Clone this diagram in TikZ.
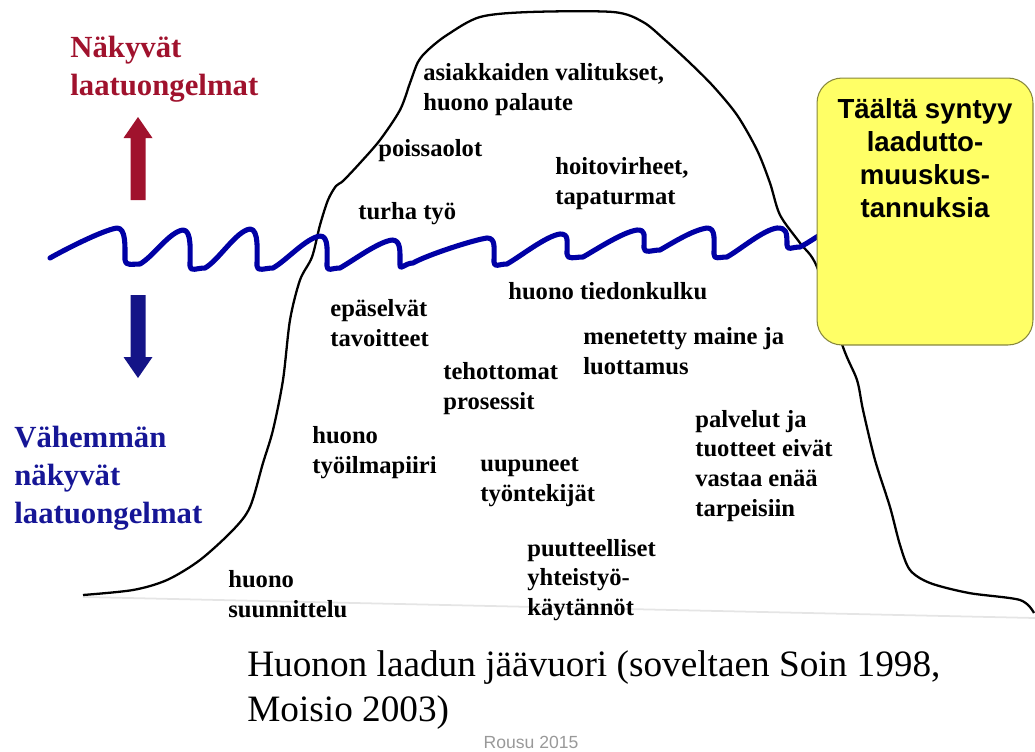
\documentclass[tikz,border=0pt]{standalone}
\usepackage{fontspec}
\setmainfont{Liberation Serif}
\setsansfont{Liberation Sans}
\usepackage{xcolor}
\usepackage{tikz}
\usetikzlibrary{positioning}

\definecolor{visred}{RGB}{160,18,45}
\definecolor{hidblue}{RGB}{22,22,150}
\definecolor{waveblue}{RGB}{0,0,165}
\definecolor{boxyellow}{RGB}{255,255,102}
\definecolor{boxedge}{RGB}{135,135,60}

\tikzset{
  problem/.style={font=\bfseries\fontsize{14}{17}\selectfont, align=left, anchor=west, inner sep=0pt},
  heading/.style={font=\bfseries\fontsize{17.5}{21.5}\selectfont, align=left, anchor=west, inner sep=0pt},
  wave/.style={draw=waveblue, line width=2.9pt, line cap=round, line join=round},
  berg/.style={draw=black, line width=1.3pt},
  costbox/.style={draw=boxedge, fill=boxyellow, rounded corners=0.5cm, line width=0.6pt,
                  minimum width=4.32cm, minimum height=5.34cm, inner sep=0pt}
}

\begin{document}
\begin{tikzpicture}[x=0.02cm, y=-0.02cm]
    \useasboundingbox (0,0) rectangle (1035,751);

    % vedenpinnan alapuolinen pohja
    \draw[gray!20, line width=1pt] (83,597) -- (1035,618);

    % jäävuori
    \draw[berg] plot[smooth, tension=0.5] coordinates {
        (83,595) (133,590) (167,580) (200,560) (233,530) (250,507) (263,463)
        (273,430) (283,380) (290,320) (300,280) (312,257) (320,225) (328,200)
        (336,186) (343,181) (360,163) (380,140) (400,110) (410,83) (418,62)
        (428,50) (447,35) (480,17) (530,12) (613,12) (643,22) (665,40)
        (690,63) (713,86) (737,115) (757,150) (770,183) (780,215) (800,243)
        (817,267) (843,347) (857,380) (863,410) (875,460) (890,507) (900,545)
        (910,570) (930,583) (969,593) (1020,600) (1034,613)};

    % vedenpinta
    \draw[wave] (50,258)
        foreach \cx/\cy/\bx/\by/\tx/\ty in {
            117/228/125/260/140/264, 183/230/190/266/205/268,
            250/229/257/266/273/268, 320/236/327/266/340/268,
            392/240/400/265/413/263, 487/238/494/262/507/264,
            560/234/567/254/583/257, 637/230/644/248/660/250,
            707/228/714/254/727/257, 777/228/787/245/800/247} {
            .. controls +(14,-8) and +(-14,2) .. (\cx,\cy)
            .. controls +(9,0) and +(0,-14) .. (\bx,\by)
            .. controls +(0,6) and +(-8,0) .. (\tx,\ty)}
        .. controls +(8,-4) and +(-6,3) .. (822,234);

    % nuolet
    \fill[visred] (138,117) -- (152.5,138) -- (145.5,138) -- (145.5,200)
        -- (130.5,200) -- (130.5,138) -- (123.5,138) -- cycle;
    \fill[hidblue!90!black] (138,378) -- (152.5,357) -- (145.5,357) -- (145.5,295)
        -- (130.5,295) -- (130.5,357) -- (123.5,357) -- cycle;

    \node[heading, text=visred] (nakyvat) at (70,69) {Näkyvät\\laatuongelmat};
    \node[heading, text=hidblue] (vahemman) at (14,478) {Vähemmän\\näkyvät\\laatuongelmat};

    % ongelmat
    \node[problem] (valitukset) at (423,90) {asiakkaiden valitukset,\\huono palaute};
    \node[problem] (poissaolot) at (378,151) {poissaolot};
    \node[problem] (hoitovirheet) at (555,184) {hoitovirheet,\\tapaturmat};
    \node[problem] (turha) at (358,214) {turha työ};
    \node[problem] (tiedonkulku) at (508,291) {huono tiedonkulku};
    \node[problem] (tavoitteet) at (330,323) {epäselvät\\tavoitteet};
    \node[problem] (maine) at (583,351) {menetetty maine ja\\luottamus};
    \node[problem] (prosessit) at (443,389) {tehottomat\\prosessit};
    \node[problem] (ilmapiiri) at (312,453) {huono\\työilmapiiri};
    \node[problem] (uupuneet) at (480,482) {uupuneet\\työntekijät};
    \node[problem] (palvelut) at (695,466) {palvelut ja\\tuotteet eivät\\vastaa enää\\tarpeisiin};
    \node[problem] (yhteistyo) at (527,580) {puutteelliset\\yhteistyö-\\käytännöt};
    \node[problem] (suunnittelu) at (228,594) {huono\\suunnittelu};

    % laatikko
    \node[costbox] (laatikko) at (925,211.5) {};
    \node[font=\sffamily\bfseries\fontsize{15.7}{18.8}\selectfont, align=center, inner sep=0pt,
          anchor=north, below=0.42cm of laatikko.north] (syntyy)
        {Täältä syntyy\\laadutto-\\muuskus-\\tannuksia};

    % otsikko
    \node[font=\fontsize{21.2}{25.5}\selectfont, align=left, anchor=west, inner sep=0pt] (otsikko)
        at (247,690) {Huonon laadun jäävuori (soveltaen Soin 1998,\\Moisio 2003)};
    \node[font=\sffamily\fontsize{10}{12}\selectfont, text=gray!80, inner sep=0pt] (lahde)
        at (531,742) {Rousu 2015};
\end{tikzpicture}
\end{document}
